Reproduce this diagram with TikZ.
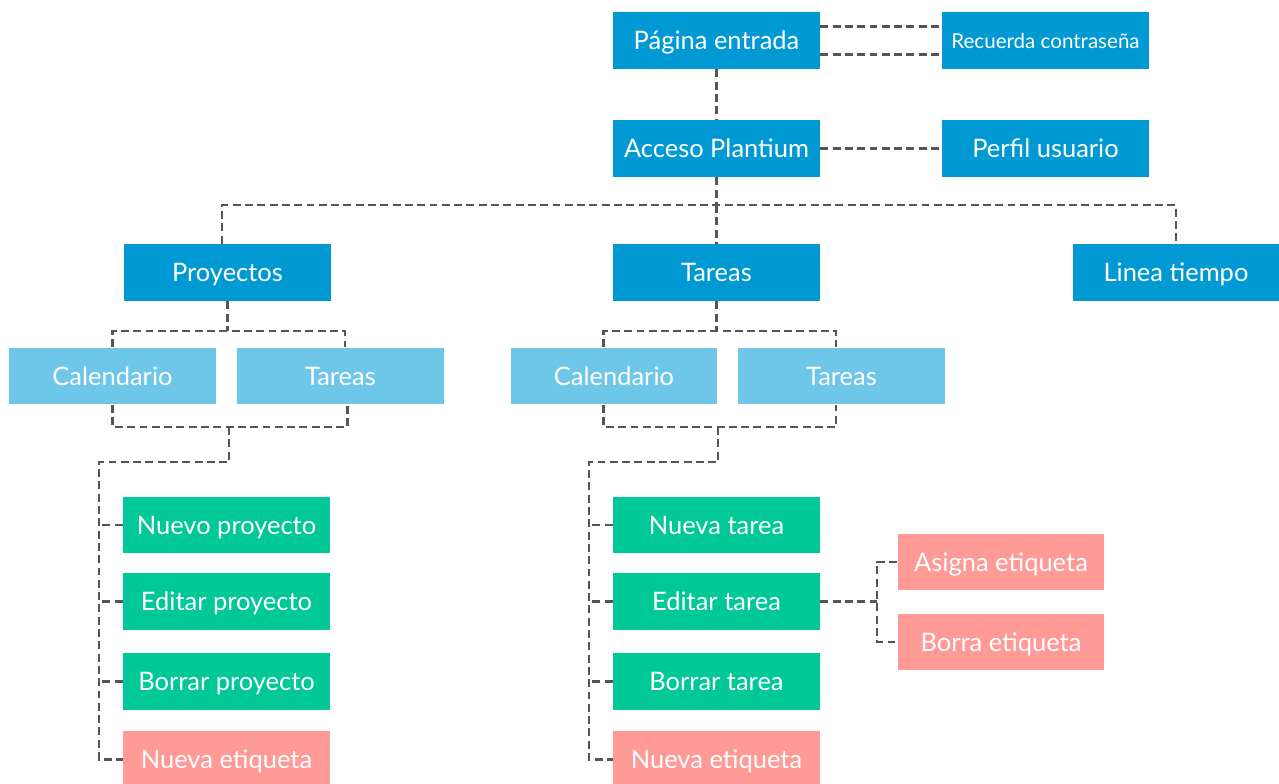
\documentclass[tikz,border=0pt]{standalone}
\usepackage{fontspec}
\setmainfont{Lato}
\usepackage{tikz}
\definecolor{azul}{HTML}{0099D4}
\definecolor{celeste}{HTML}{6EC6E8}
\definecolor{verde}{HTML}{00C896}
\definecolor{salmon}{HTML}{FF9A96}
\definecolor{linea}{HTML}{555555}

\begin{document}
\begin{tikzpicture}[x=0.02cm,y=-0.02cm,
        caja/.style={inner sep=0pt, minimum width=4.14cm, minimum height=1.14cm,
            text=white, text height=10.4pt, text depth=0pt, font=\fontsize{14.5}{16}\selectfont},
        nivel1/.style={caja, fill=azul},
        nivel2/.style={caja, fill=celeste},
        accion/.style={caja, fill=verde},
        etiqueta/.style={caja, fill=salmon},
        enlace/.style={draw=linea, line width=1.4pt, dash pattern=on 4.5pt off 2.5pt}]
        \clip (0,0) rectangle (1279,784);
        \node[nivel1] (pagina) at (716.5,40.5) {Página entrada};
        \node[nivel1, font=\fontsize{11.7}{13}\selectfont, text height=8.6pt] (recuerda) at (1045.5,40.5) {Recuerda contraseña};
        \node[nivel1] (acceso) at (716.5,148.5) {Acceso Plantium};
        \node[nivel1] (perfil) at (1045.5,148.5) {Perfil usuario};
        \node[nivel1] (proyectos) at (227.5,272.5) {Proyectos};
        \node[nivel1] (tareas) at (716.5,272.5) {Tareas};
        \node[nivel1] (lineatiempo) at (1176,272.5) {Linea tiempo};
        \node[nivel2] (calp) at (112.5,376) {Calendario};
        \node[nivel2] (tarp) at (340.5,376) {Tareas};
        \node[nivel2] (calt) at (614,376) {Calendario};
        \node[nivel2] (tart) at (841.5,376) {Tareas};
        \node[accion] (nuevop) at (226.5,525) {Nuevo proyecto};
        \node[accion] (editp) at (226.5,601.5) {Editar proyecto};
        \node[accion] (borrp) at (226.5,681.5) {Borrar proyecto};
        \node[etiqueta] (etiqp) at (226.5,759.5) {Nueva etiqueta};
        \node[accion] (nuevat) at (716.5,525) {Nueva tarea};
        \node[accion] (editt) at (716.5,601.5) {Editar tarea};
        \node[accion] (borrt) at (716.5,681.5) {Borrar tarea};
        \node[etiqueta] (etiqt) at (716.5,759.5) {Nueva etiqueta};
        \node[etiqueta] (asigna) at (1001,562) {Asigna etiqueta};
        \node[etiqueta] (borra) at (1001,642) {Borra etiqueta};

        \coordinate (bus) at (716.5,205);
        \coordinate (busp) at (227.5,331);
        \coordinate (bust) at (716.5,331);
        \coordinate (unep) at (229,427);
        \coordinate (unet) at (718,427);
        \coordinate (lomop) at (99,462);
        \coordinate (lomot) at (589,462);
        \coordinate (ramat) at (877,601.5);

        \draw[enlace] ([yshift=8pt]pagina.east) -- ([yshift=8pt]recuerda.west);
        \draw[enlace] ([yshift=-8pt]pagina.east) -- ([yshift=-8pt]recuerda.west);
        \draw[enlace] (pagina) -- (acceso);
        \draw[enlace] (acceso) -- (perfil);
        \draw[enlace] (acceso.south) -- (bus);
        \draw[enlace] ([xshift=-3pt]proyectos.north) |- (bus) -| (lineatiempo.north);
        \draw[enlace] (bus) -- (tareas.north);

        \draw[enlace] (proyectos.south) -- (busp);
        \draw[enlace] (calp.north) |- (busp) -| ([xshift=2.5pt]tarp.north);
        \draw[enlace] (calp.south) |- (unep) -| ([xshift=4pt]tarp.south);
        \draw[enlace] (unep) |- (lomop) |- (etiqp.west);
        \foreach \n in {nuevop,editp,borrp}
            \draw[enlace] (\n.west) -- (\n.west -| lomop);

        \draw[enlace] (tareas.south) -- (bust);
        \draw[enlace] ([xshift=-6pt]calt.north) |- (bust) -| ([xshift=-3pt]tart.north);
        \draw[enlace] ([xshift=-6pt]calt.south) |- (unet) -| ([xshift=-3pt]tart.south);
        \draw[enlace] (unet) |- (lomot) |- (etiqt.west);
        \foreach \n in {nuevat,editt,borrt}
            \draw[enlace] (\n.west) -- (\n.west -| lomot);

        \draw[enlace] (editt.east) -- (ramat);
        \draw[enlace] (asigna.west) -| (ramat) |- (borra.west);
    \end{tikzpicture}
\end{document}
